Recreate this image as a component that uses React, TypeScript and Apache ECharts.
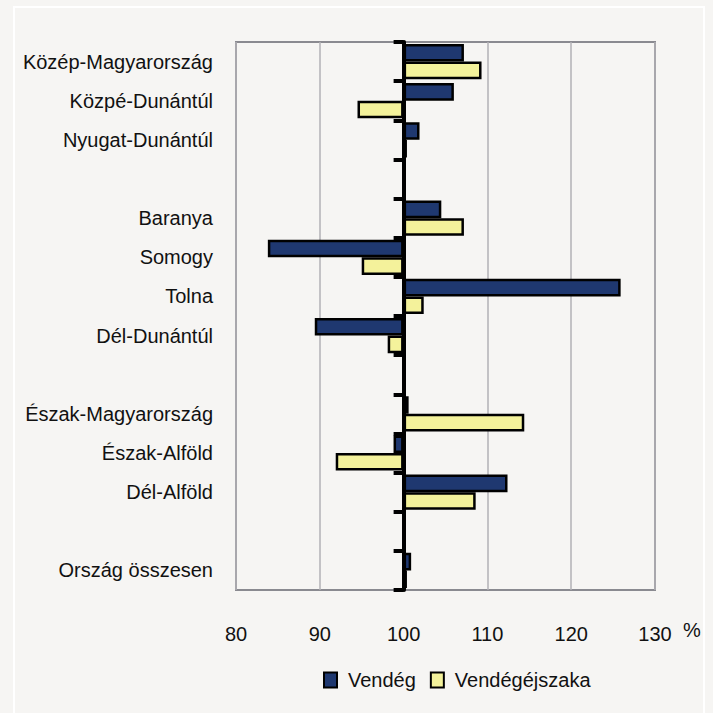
import React, { useEffect, useRef } from "react";
import * as echarts from "echarts";

const categories = [
  "Közép-Magyarország",
  "Közpé-Dunántúl",
  "Nyugat-Dunántúl",
  "",
  "Baranya",
  "Somogy",
  "Tolna",
  "Dél-Dunántúl",
  " ",
  "Észak-Magyarország",
  "Észak-Alföld",
  "Dél-Alföld",
  "  ",
  "Ország összesen",
];

const vendeg: (number | null)[] = [107.2, 106.0, 101.9, null, 104.5, 83.8, 125.9, 89.4, null, 100.6, 98.8, 112.4, null, 100.9];
const vendegejszaka: (number | null)[] = [109.3, 94.5, 100.4, null, 107.2, 95.0, 102.4, 98.1, null, 114.4, 91.9, 108.6, null, 100.4];

const seriesNames = ["Vendég", "Vendégéjszaka"];
const baseValue = 100;
const xMin = 80;
const xMax = 130;
const xStep = 10;

const FONT = "'Liberation Sans', Arial, sans-serif";
const FS = 20;

export default function App() {
  const ref = useRef<HTMLDivElement>(null);

  useEffect(() => {
    if (!ref.current) return;
    const chart = echarts.init(ref.current, undefined, { renderer: "svg" });
    const toDev = (arr: (number | null)[]) =>
      arr.map((v) => (v == null ? "-" : +(v - baseValue).toFixed(2)));

    chart.setOption({
      animation: false,
      backgroundColor: "#f6f5f3",
      textStyle: { fontFamily: FONT },
      grid: {
        left: 236,
        right: 58,
        top: 42,
        bottom: 123,
        show: true,
        borderColor: "#8a8a90",
        borderWidth: 2,
        backgroundColor: "transparent",
      },
      legend: {
        bottom: 18,
        left: 318,
        itemWidth: 13,
        itemHeight: 15,
        itemGap: 14,
        icon: "rect",
        textStyle: { fontSize: FS, color: "#111", fontFamily: FONT, padding: [0, 0, 0, 6] },
        data: seriesNames,
      },
      xAxis: {
        type: "value",
        min: xMin - baseValue,
        max: xMax - baseValue,
        interval: xStep,
        axisLine: { show: false },
        axisTick: { show: false },
        splitLine: { show: true, lineStyle: { color: "#b2b1b6", width: 1.5 } },
        axisLabel: {
          margin: 34,
          fontSize: FS,
          color: "#111",
          fontFamily: FONT,
          formatter: (v: number) => String(Math.round(v + baseValue)),
        },
      },
      yAxis: [
        {
          type: "category",
          data: categories,
          inverse: true,
          axisLine: { show: false, onZero: false },
          axisTick: { show: false },
          axisLabel: { margin: 23, fontSize: FS, color: "#111", fontFamily: FONT },
        },
        {
          type: "category",
          data: categories,
          inverse: true,
          position: "left",
          axisLine: { show: true, onZero: true, lineStyle: { color: "#000", width: 4 } },
          axisTick: { show: true, length: 10, lineStyle: { color: "#000", width: 4 } },
          axisLabel: { show: false },
          splitLine: { show: false },
        },
      ],
      series: [
        {
          name: seriesNames[0],
          type: "bar",
          yAxisIndex: 0,
          data: toDev(vendeg),
          barGap: "0%",
          barCategoryGap: "10%",
          itemStyle: { color: "#1f3870", borderColor: "#000", borderWidth: 2.5 },
        },
        {
          name: seriesNames[1],
          type: "bar",
          yAxisIndex: 0,
          data: toDev(vendegejszaka),
          barGap: "0%",
          barCategoryGap: "10%",
          itemStyle: { color: "#f4f29b", borderColor: "#000", borderWidth: 2.5 },
        },
      ],
      graphic: [
        {
          type: "rect",
          shape: { x: 14, y: 7, width: 690, height: 720 },
          style: { fill: "none", stroke: "#ffffff", lineWidth: 2 },
          silent: true,
        },
        {
          type: "text",
          left: 683,
          top: 620,
          style: { text: "%", fontSize: FS, fill: "#111", fontFamily: FONT },
        },
      ],
    });
    return () => chart.dispose();
  }, []);

  return (
    <div
      ref={ref}
      style={{ position: "fixed", left: 0, top: 0, width: 713, height: 713 }}
    />
  );
}
